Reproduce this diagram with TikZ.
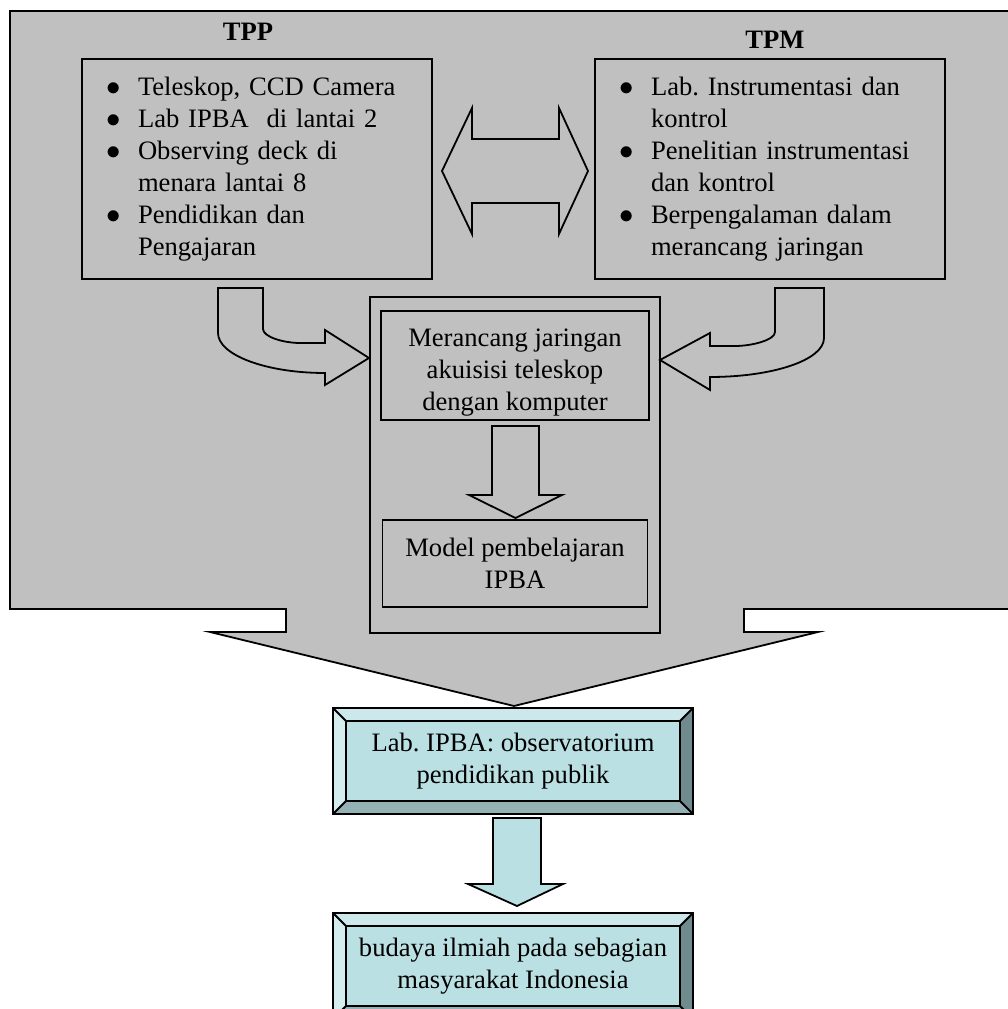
\documentclass[tikz,border=0pt]{standalone}
\usepackage{fontspec}
\setmainfont{Liberation Serif}
\usepackage{tikz}
\usetikzlibrary{arrows, positioning}
\usepackage{xcolor}

\definecolor{boxgray}{HTML}{C0C0C0}
\definecolor{face}{HTML}{BBE0E3}
\definecolor{rimtop}{HTML}{CDE8EB}
\definecolor{rimleft}{HTML}{D6EDEF}
\definecolor{rimbottom}{HTML}{94B2B5}
\definecolor{rimright}{HTML}{6F8B8D}

\newcommand{\bul}{$\bullet$}
% bevelled frame round a named node
\newcommand{\bevelrim}[1]{%
  \fill[rimtop] (#1.north west) -- (#1.north east) -- ([shift={(-6.5pt,-6.5pt)}]#1.north east) -- ([shift={(6.5pt,-6.5pt)}]#1.north west) -- cycle;
  \fill[rimleft] (#1.north west) -- ([shift={(6.5pt,-6.5pt)}]#1.north west) -- ([shift={(6.5pt,6.5pt)}]#1.south west) -- (#1.south west) -- cycle;
  \fill[rimbottom] (#1.south west) -- ([shift={(6.5pt,6.5pt)}]#1.south west) -- ([shift={(-6.5pt,6.5pt)}]#1.south east) -- (#1.south east) -- cycle;
  \fill[rimright] (#1.south east) -- ([shift={(-6.5pt,6.5pt)}]#1.south east) -- ([shift={(-6.5pt,-6.5pt)}]#1.north east) -- (#1.north east) -- cycle;
  \draw (#1.north west) rectangle (#1.south east);
  \draw ([shift={(6.5pt,-6.5pt)}]#1.north west) rectangle ([shift={(-6.5pt,6.5pt)}]#1.south east);
  \draw (#1.north west) -- ([shift={(6.5pt,-6.5pt)}]#1.north west)
        (#1.north east) -- ([shift={(-6.5pt,-6.5pt)}]#1.north east)
        (#1.south west) -- ([shift={(6.5pt,6.5pt)}]#1.south west)
        (#1.south east) -- ([shift={(-6.5pt,6.5pt)}]#1.south east);
}

\begin{document}
\begin{tikzpicture}[x=0.5pt,y=0.5pt,node distance=256.5pt,on grid,auto,line width=0.9pt,
    font=\fontsize{13.3pt}{16pt}\selectfont\frenchspacing]
    \tikzstyle{listbox}=[draw,fill=boxgray,outer sep=0pt,text width=151pt,inner xsep=12pt,inner ysep=7pt,minimum height=110pt,align=left]
    \tikzstyle{plainbox}=[draw,fill=boxgray,outer sep=0pt,align=center]
    \tikzstyle{bevel}=[draw,fill=face,outer sep=0pt,minimum width=180pt,minimum height=53pt,align=center]
    \tikzstyle{blockarrow}=[draw,fill=boxgray,line join=miter]

    \useasboundingbox (0,0) rectangle (1008,1009);
    \clip (0,0) rectangle (1008,1009);

    % big callout
    \path[blockarrow] (10,998) -- (1014,998) -- (1014,400) -- (744,400) -- (744,377) -- (818,377)
        -- (514,303) -- (210,377) -- (286,377) -- (286,400) -- (10,400) -- cycle;

    \node[font=\fontsize{13.3pt}{16pt}\selectfont\bfseries] (ttpp) at (248,977) {TPP};
    \node[font=\fontsize{13.3pt}{16pt}\selectfont\bfseries] (ttpm) at (775,969) {TPM};

    \node[listbox] (tpp) at (257,840) {%
      \begin{tabular}{@{}p{16pt}@{}l@{}}
        \bul & Teleskop, CCD Camera\\
        \bul & Lab IPBA~ di lantai 2\\
        \bul & Observing deck di\\
             & menara lantai 8\\
        \bul & Pendidikan dan\\
             & Pengajaran
      \end{tabular}};
    \node[listbox,right of=tpp] (tpm) {%
      \begin{tabular}{@{}p{16pt}@{}l@{}}
        \bul & Lab. Instrumentasi dan\\
             & kontrol\\
        \bul & Penelitian instrumentasi\\
             & dan kontrol\\
        \bul & Berpengalaman dalam\\
             & merancang jaringan
      \end{tabular}};

    % two-way arrow
    \path[blockarrow] (442,838) -- (472,901) -- (472,870) -- (559,870) -- (559,901) -- (588,838)
        -- (559,775) -- (559,806) -- (472,806) -- (472,775) -- cycle;

    \node[plainbox,minimum width=145pt,minimum height=168pt] (mid) at (515,544) {};
    \node[plainbox,minimum width=134pt,minimum height=54.5pt,inner ysep=0pt] (dsn) at (515,643.5)
        {\rule{0pt}{16pt}Merancang jaringan\\akuisisi teleskop\\dengan komputer};
    \node[plainbox,minimum width=132.5pt,minimum height=43.5pt,below of=dsn,node distance=99pt] (mdl)
        {Model pembelajaran\\IPBA};

    % curved arrows
    \path[blockarrow] (263,721) -- (263,680) .. controls (263,672) and (284,666) .. (300,666)
        -- (325,666) -- (325,679) -- (369,651) -- (325,624) -- (325,636)
        .. controls (266,636) and (218,654) .. (218,676) -- (218,721) -- cycle;
    \path[blockarrow] (775,721) -- (775,677) .. controls (775,669) and (752,663) .. (735,663)
        -- (710,663) -- (710,676) -- (660,649) -- (710,619) -- (710,632)
        .. controls (773,632) and (824,649) .. (824,671) -- (824,721) -- cycle;

    \path[blockarrow] (492,583) -- (539,583) -- (539,514) -- (562,514) -- (515.5,491)
        -- (469,514) -- (492,514) -- cycle;

    % bevelled results
    \node[bevel] (lab) at (513,248) {Lab. IPBA: observatorium\\pendidikan publik};
    \bevelrim{lab}
    \node[bevel,below of=lab,node distance=102.5pt] (bdy) {budaya ilmiah pada sebagian\\masyarakat Indonesia};
    \bevelrim{bdy}

    \path[blockarrow,fill=face] (493,191) -- (541,191) -- (541,125) -- (563,125) -- (517,103)
        -- (468,125) -- (493,125) -- cycle;
\end{tikzpicture}
\end{document}
